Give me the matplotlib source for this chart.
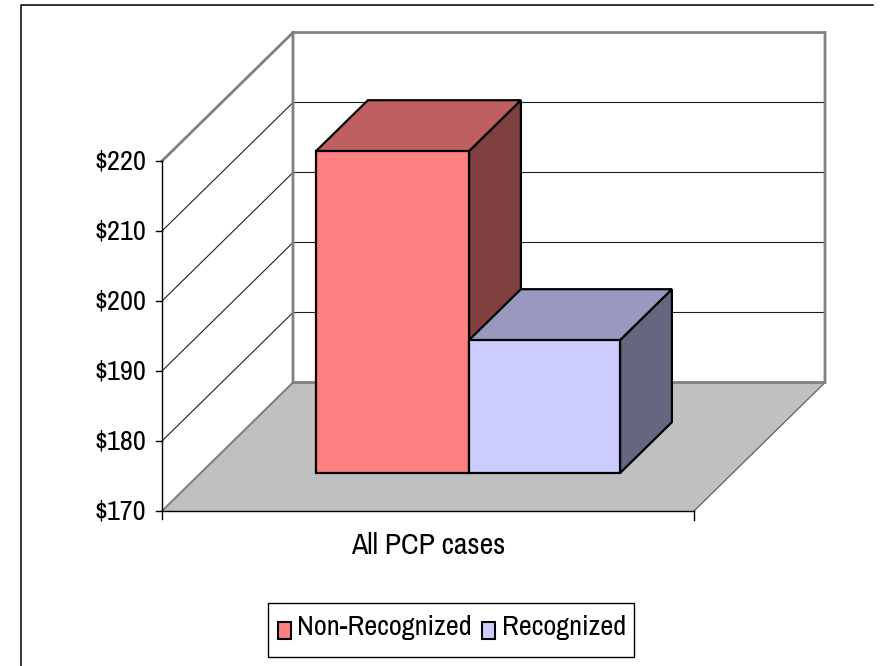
import logging
import matplotlib
matplotlib.use("Agg")
import matplotlib.pyplot as plt
from matplotlib.patches import Polygon, Rectangle

logging.getLogger("matplotlib.font_manager").setLevel(logging.ERROR)

# values
series_names = ["Non-Recognized", "Recognized"]
series_values = [216.0, 189.0]
category = "All PCP cases"
tick_values = [170, 180, 190, 200, 210, 220]
tick_labels = ["$170", "$180", "$190", "$200", "$210", "$220"]

front_colors = ["#FF8080", "#CCCCFF"]
top_colors = ["#BF6060", "#9999BF"]
side_colors = ["#804040", "#666680"]

# oblique projection of the 3d box, in image pixels
X0, X1 = 162, 694
Y170, Y220 = 511, 161
DX, DY = 131, -128.5


def proj(x, v, d=0.0):
    px = X0 + x * (X1 - X0) + d * DX
    py = Y170 + (v - 170) * (Y220 - Y170) / 50 + d * DY
    return px, py


plt.rcParams["font.family"] = ["Archivo Narrow", "Roboto Condensed", "Liberation Sans"]
FS = 20.4

fig = plt.figure(figsize=(8.83, 6.66), dpi=100)
ax = fig.add_axes([0, 0, 1, 1])
ax.set_xlim(0, 883)
ax.set_ylim(666, 0)
ax.axis("off")

# outer chart frame
ax.plot([20.5, 20.5, 873], [666, 5, 5], color="black", lw=1.1, zorder=1)

# floor
ax.add_patch(Polygon([proj(0, 170), proj(1, 170), proj(1, 170, 1), proj(0, 170, 1)],
                     fc="#C0C0C0", ec="none", zorder=2))
ax.plot(*zip(proj(0, 170), proj(0, 170, 1)), color="#808080", lw=1.5, zorder=3)
ax.plot(*zip(proj(1, 170), proj(1, 170, 1)), color="#606060", lw=0.9, zorder=3)

# gridlines on side and back walls
for v in tick_values[1:-1]:
    ax.plot(*zip(proj(0, v), proj(0, v, 1), proj(1, v, 1)), color="#202020", lw=0.8, zorder=3)

# wall outlines
ax.plot(*zip(proj(0, 220), proj(0, 220, 1), proj(1, 220, 1), proj(1, 170, 1), proj(0, 170, 1), proj(0, 220, 1)),
        color="#808080", lw=2, zorder=3, solid_joinstyle="miter")

# front axes and ticks
ax.plot(*zip(proj(0, 220), proj(0, 170), proj(1, 170)), color="black", lw=1, zorder=4)
ax.plot(*zip(proj(1, 170), (X1, 520)), color="black", lw=1, zorder=4)
ax.plot([X0, X0], [Y170, 519], color="black", lw=1, zorder=4)
for v, label in zip(tick_values, tick_labels):
    px, py = proj(0, v)
    ax.plot([px - 6, px], [py, py], color="black", lw=1, zorder=4)
    ax.text(px - 16, py + 1, label, ha="right", va="center", fontsize=FS, color="black")

# bars
edges = [0.2169, 0.5045, 0.7883]
d0, d1 = 0.295, 0.691
for i, val in enumerate(series_values):
    xa, xb = edges[i], edges[i + 1]
    side = [proj(xb, 170, d0), proj(xb, val, d0), proj(xb, val, d1), proj(xb, 170, d1)]
    top = [proj(xa, val, d0), proj(xb, val, d0), proj(xb, val, d1), proj(xa, val, d1)]
    front = [proj(xa, 170, d0), proj(xb, 170, d0), proj(xb, val, d0), proj(xa, val, d0)]
    z = 6 + i
    ax.add_patch(Polygon(side, fc=side_colors[i], ec="black", lw=1.6, zorder=z))
    ax.add_patch(Polygon(top, fc=top_colors[i], ec="black", lw=1.6, zorder=z))
    ax.add_patch(Polygon(front, fc=front_colors[i], ec="black", lw=1.6, zorder=z))

ax.text(428, 545, category, ha="center", va="center", fontsize=FS + 1, color="black")

# legend
ax.add_patch(Rectangle((268, 602.5), 366, 54, fc="white", ec="black", lw=1, zorder=8))
ax.add_patch(Rectangle((277.5, 621.5), 13, 17, fc=front_colors[0], ec="black", lw=1.5, zorder=9))
ax.add_patch(Rectangle((481.5, 621.5), 13, 17, fc=front_colors[1], ec="black", lw=1.5, zorder=9))
ax.text(297, 628, series_names[0], ha="left", va="center", fontsize=FS, color="black", zorder=9)
ax.text(502, 628, series_names[1], ha="left", va="center", fontsize=FS, color="black", zorder=9)

fig.savefig("out.png", dpi=100, facecolor="white")
